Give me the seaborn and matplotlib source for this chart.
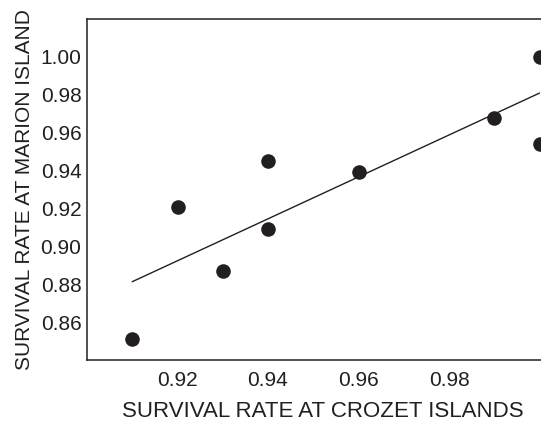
import matplotlib
matplotlib.use("Agg")
import matplotlib.pyplot as plt
import seaborn as sns
import pandas as pd

# survival rates
crozet = [0.91, 0.92, 0.93, 0.94, 0.94, 0.96, 0.99, 1.00, 1.00]
marion = [0.851, 0.921, 0.887, 0.909, 0.945, 0.9395, 0.968, 1.000, 0.954]
xticks = [0.92, 0.94, 0.96, 0.98]
yticks = [0.86, 0.88, 0.90, 0.92, 0.94, 0.96, 0.98, 1.00]

df = pd.DataFrame({'crozet': crozet, 'marion': marion})

sns.set_style('white')
plt.rcParams['font.family'] = ['Liberation Sans', 'DejaVu Sans']

ink = '#231f20'
fig = plt.figure(figsize=(5.41, 4.23), dpi=100)
ax = fig.add_axes([87 / 541, 63 / 423, 454 / 541, 341 / 423])

sns.regplot(data=df, x='crozet', y='marion', ci=None, ax=ax,
            scatter_kws={'s': 110, 'color': ink, 'linewidths': 0, 'alpha': 1},
            line_kws={'color': ink, 'lw': 1.0})

ax.set_xlim(0.90, 1.0 + 1.5 * 0.02 / 90.5)
ax.set_ylim(0.84, 1.02)
ax.set_xticks(xticks)
ax.set_yticks(yticks)
ax.set_xticklabels(['%.2f' % v for v in xticks])
ax.set_yticklabels(['%.2f' % v for v in yticks])
ax.tick_params(direction='in', length=6, width=1.1, colors=ink, labelsize=15)
ax.tick_params(axis='x', pad=8)
ax.tick_params(axis='y', pad=4)
for s in ['left', 'top', 'bottom']:
    ax.spines[s].set_color(ink)
    ax.spines[s].set_linewidth(1.1)
ax.spines['right'].set_visible(False)

ax.set_xlabel('SURVIVAL RATE AT CROZET ISLANDS', fontsize=16, color=ink,
              labelpad=8, x=0.519)
ax.set_ylabel('SURVIVAL RATE AT MARION ISLAND', fontsize=15, color=ink, labelpad=5)

fig.savefig('out.png', dpi=100)
